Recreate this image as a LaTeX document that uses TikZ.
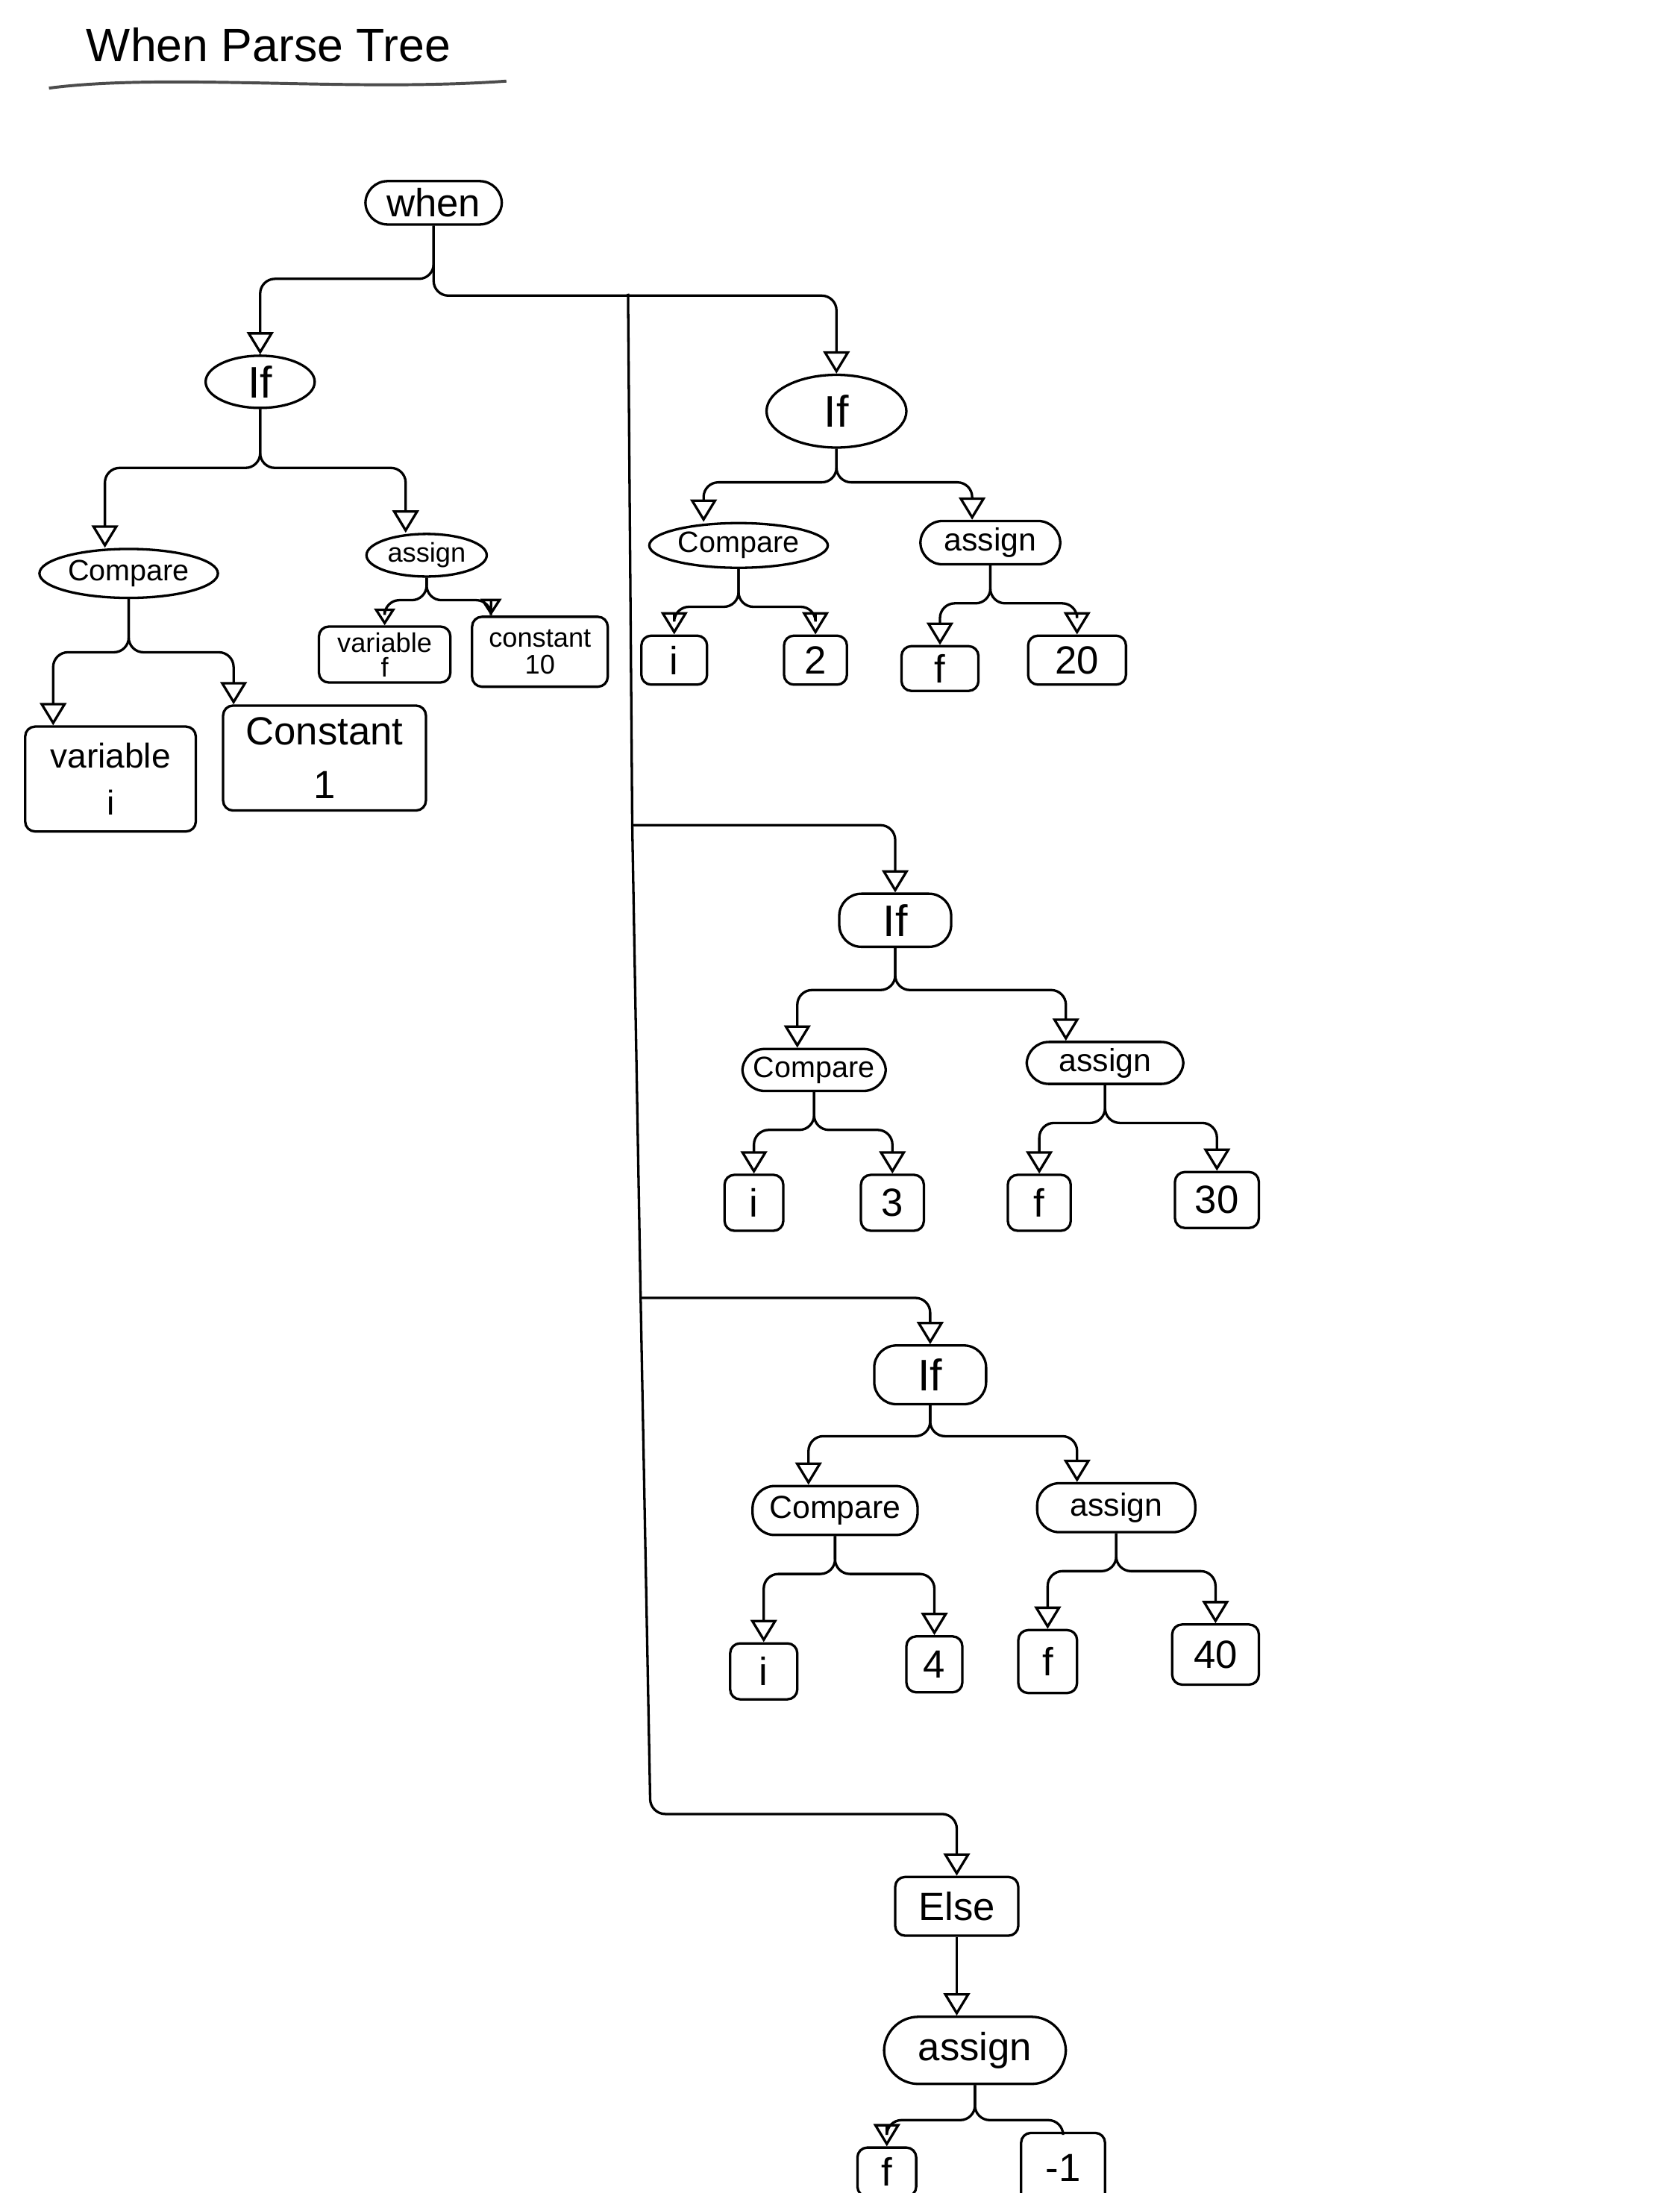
\documentclass[tikz,border=0pt]{standalone}
\usepackage{fontspec}
\setmainfont{Liberation Sans}
\usepackage{tikz}
\usetikzlibrary{shapes.geometric, arrows.meta, positioning, calc}

\tikzset{
  link/.style={draw, line width=1pt, rounded corners=6pt},
  toarrow/.style={-{Triangle[open, length=0.32cm, width=0.38cm]}},
  smallarrow/.style={-{Triangle[open, length=0.24cm, width=0.3cm]}},
  oval/.style={draw, ellipse, line width=1pt, inner sep=1pt},
  pill/.style={draw, rounded corners=9pt, line width=1pt, inner sep=1pt},
  leaf/.style={draw, rounded corners=4pt, line width=1pt, inner sep=1pt,
               font=\fontsize{16}{18}\selectfont},
}

\begin{document}
\begin{tikzpicture}[x=0.02cm, y=-0.02cm]
\clip (0,0) rectangle (1201,1568);
\fill[white] (0,0) rectangle (1201,1568);

%% Title
\node (title) at (192,32) {\fontsize{19}{22}\selectfont When Parse Tree};
\draw[line width=1.2pt, black!70] (35,63) .. controls (120,52) and (250,66) .. (362,58);

%% Root
\node[pill, minimum width=1.95cm, minimum height=0.62cm,
      font=\fontsize{16}{18}\selectfont] (when) at (310,145) {when};

%% First if (left)
\node[oval, minimum width=1.56cm, minimum height=0.74cm,
      font=\fontsize{18}{20}\selectfont] (if1) at (186,273) {If};
\node[oval, minimum width=2.0cm, minimum height=0.7cm,
      font=\fontsize{12}{14}\selectfont] (cmp1) at (92,410) {Compare};
\node[oval, minimum width=1.72cm, minimum height=0.54cm,
      font=\fontsize{11}{13}\selectfont] (asg1) at (305,397) {assign};
\node[leaf, minimum width=2.44cm, minimum height=1.5cm, align=center,
      font=\fontsize{14}{19}\selectfont] (var1) at (79,557) {variable\\i};
\node[leaf, minimum width=2.9cm, minimum height=1.5cm, align=center,
      font=\fontsize{16}{22}\selectfont] (con1) at (232,542) {Constant\\1};
\node[leaf, minimum width=1.88cm, minimum height=0.8cm, align=center,
      font=\fontsize{11}{10}\selectfont] (var2) at (275,468) {variable\\f};
\node[leaf, minimum width=1.94cm, minimum height=1.0cm, align=center,
      font=\fontsize{11}{11}\selectfont] (con2) at (386,466) {constant\\10};

%% Second if
\node[oval, minimum width=2.0cm, minimum height=1.04cm,
      font=\fontsize{18}{20}\selectfont] (if2) at (598,294) {If};
\node[oval, minimum width=2.2cm, minimum height=0.62cm,
      font=\fontsize{12}{14}\selectfont] (cmp2) at (528,390) {Compare};
\node[pill, minimum width=2.0cm, minimum height=0.62cm,
      font=\fontsize{13}{15}\selectfont] (asg2) at (708,388) {assign};
\node[leaf, minimum width=0.94cm, minimum height=0.7cm] (i2) at (482,472) {i};
\node[leaf, minimum width=0.9cm, minimum height=0.7cm] (n2) at (583,472) {2};
\node[leaf, minimum width=1.1cm, minimum height=0.64cm] (f2) at (672,478) {f};
\node[leaf, minimum width=1.4cm, minimum height=0.7cm] (n20) at (770,472) {20};

%% Third if
\node[pill, minimum width=1.6cm, minimum height=0.76cm,
      font=\fontsize{18}{20}\selectfont] (if3) at (640,658) {If};
\node[pill, minimum width=2.05cm, minimum height=0.6cm,
      font=\fontsize{12}{14}\selectfont] (cmp3) at (582,765) {Compare};
\node[pill, minimum width=2.24cm, minimum height=0.6cm,
      font=\fontsize{13}{15}\selectfont] (asg3) at (790,760) {assign};
\node[leaf, minimum width=0.84cm, minimum height=0.8cm] (i3) at (539,860) {i};
\node[leaf, minimum width=0.9cm, minimum height=0.8cm] (n3) at (638,860) {3};
\node[leaf, minimum width=0.9cm, minimum height=0.8cm] (f3) at (743,860) {f};
\node[leaf, minimum width=1.2cm, minimum height=0.8cm] (n30) at (870,858) {30};

%% Fourth if
\node[pill, minimum width=1.6cm, minimum height=0.84cm,
      font=\fontsize{18}{20}\selectfont] (if4) at (665,983) {If};
\node[pill, minimum width=2.36cm, minimum height=0.7cm,
      font=\fontsize{13}{15}\selectfont] (cmp4) at (597,1080) {Compare};
\node[pill, minimum width=2.26cm, minimum height=0.7cm,
      font=\fontsize{13}{15}\selectfont] (asg4) at (798,1078) {assign};
\node[leaf, minimum width=0.96cm, minimum height=0.8cm] (i4) at (546,1195) {i};
\node[leaf, minimum width=0.8cm, minimum height=0.8cm] (n4) at (668,1190) {4};
\node[leaf, minimum width=0.84cm, minimum height=0.9cm] (f4) at (749,1188) {f};
\node[leaf, minimum width=1.24cm, minimum height=0.86cm] (n40) at (869,1183) {40};

%% Else
\node[leaf, minimum width=1.76cm, minimum height=0.84cm] (else) at (684,1363) {Else};
\node[pill, rounded corners=14pt, minimum width=2.6cm, minimum height=0.96cm,
      font=\fontsize{16}{18}\selectfont] (asg5) at (697,1466) {assign};
\node[leaf, minimum width=0.84cm, minimum height=0.7cm] (f5) at (634,1553) {f};
\node[leaf, minimum width=1.2cm, minimum height=1.0cm] (m1) at (760,1550) {-1};

%% Trunk of the when node
\coordinate (tk2) at (449,210);
\coordinate (tk3) at (452,590);
\coordinate (tk4) at (458,928);
\coordinate (tk5) at (465,1297);

\draw[link, toarrow] (when.south) -- ++(0,38) -| (if1.north);
\draw[link, toarrow] (when.south) -- ++(0,50) -| (if2.north);
\draw[link] (tk2) -- (tk3) -- (tk4);
\draw[link, toarrow] (tk4) -- (tk5) -| (else.north);
\draw[link, toarrow] (tk3) -| (if3.north);
\draw[link, toarrow] (tk4) -| (if4.north);

%% Branches
\draw[link, toarrow] (if1.south) -- ++(0,42) -| ([xshift=-0.34cm]cmp1.north);
\draw[link, toarrow] (if1.south) -- ++(0,42) -| ([xshift=-0.3cm]asg1.north);
\draw[link, toarrow] (cmp1.south) -- ++(0,38) -| ([xshift=-0.82cm]var1.north);
\draw[link, toarrow] (cmp1.south) -- ++(0,38) -| ([xshift=-1.3cm]con1.north);
\draw[link, smallarrow] (asg1.south) -- ++(0,16) -| (var2.north);
\draw[link, smallarrow] (asg1.south) -- ++(0,16) -| ([xshift=-0.7cm]con2.north);

\draw[link, toarrow] (if2.south) -- ++(0,24) -| ([xshift=-0.5cm]cmp2.north);
\draw[link, toarrow] (if2.south) -- ++(0,24) -| ([xshift=-0.26cm]asg2.north);
\foreach \p/\a/\b in {cmp2/i2/n2, asg2/f2/n20, cmp3/i3/n3, asg3/f3/n30,
                      cmp4/i4/n4, asg4/f4/n40} {
  \draw[link, toarrow] (\p.south) -- ++(0,27) -| (\a.north);
  \draw[link, toarrow] (\p.south) -- ++(0,27) -| (\b.north);
}

\draw[link, toarrow] (if3.south) -- ++(0,30) -| ([xshift=-0.24cm]cmp3.north);
\draw[link, toarrow] (if3.south) -- ++(0,30) -| ([xshift=-0.56cm]asg3.north);
\draw[link, toarrow] (if4.south) -- ++(0,22) -| ([xshift=-0.38cm]cmp4.north);
\draw[link, toarrow] (if4.south) -- ++(0,22) -| ([xshift=-0.56cm]asg4.north);

\draw[link, toarrow] (else.south) -- (else.south |- asg5.north);
\draw[link, toarrow] (asg5.south) -- ++(0,25) -| (f5.north);
\draw[link] (asg5.south) -- ++(0,25) -| (m1.north);
\end{tikzpicture}
\end{document}
